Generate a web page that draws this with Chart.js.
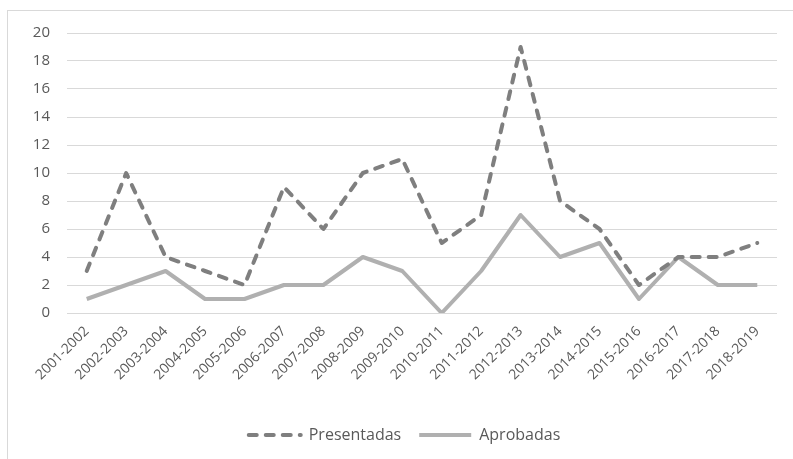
<!DOCTYPE html>
<html>
<head>
<meta charset="utf-8">
<script src="https://cdn.jsdelivr.net/npm/chart.js@4/dist/chart.umd.min.js"></script>
<style>
  html, body { margin: 0; padding: 0; background: #fff; }
  #wrap { position: relative; width: 793px; height: 459px; overflow: hidden; }
  #frame {
    position: absolute; left: 7px; top: 10px; width: 800px; height: 460px;
    border-left: 1px solid #d9d9d9; border-top: 1px solid #d9d9d9;
  }
  #chart { position: absolute; left: 0; top: 0; }
</style>
</head>
<body>
<div id="wrap">
  <div id="frame"></div>
  <canvas id="chart" width="793" height="459"></canvas>
</div>
<script>
// Cursos académicos
const cursos = [
  '2001-2002', '2002-2003', '2003-2004', '2004-2005', '2005-2006', '2006-2007',
  '2007-2008', '2008-2009', '2009-2010', '2010-2011', '2011-2012', '2012-2013',
  '2013-2014', '2014-2015', '2015-2016', '2016-2017', '2017-2018', '2018-2019'
];

// Iniciativas por curso
const presentadas = [3, 10, 4, 3, 2, 9, 6, 10, 11, 5, 7, 19, 8, 6, 2, 4, 4, 5];
const aprobadas   = [1, 2, 3, 1, 1, 2, 2, 4, 3, 0, 3, 7, 4, 5, 1, 4, 2, 2];

const yMin = 0;
const yMax = 20;
const yStep = 2;

const textColor = '#595959';
const fontFamily = '"Open Sans", "DejaVu Sans", sans-serif';

const ctx = document.getElementById('chart').getContext('2d');

// La leyenda con estilo 'line' no toma el trazo discontinuo del dataset; se lo pasamos a mano
const legendLabels = (chart) => {
    const items = Chart.defaults.plugins.legend.labels.generateLabels(chart);
    return items.map(item => {
        const ds = chart.data.datasets[item.datasetIndex];
        item.pointStyle = 'line';
        item.lineDash = ds.borderDash || [];
        item.lineCap = ds.borderCapStyle || 'butt';
        item.lineWidth = ds.borderWidth;
        item.strokeStyle = ds.borderColor;
        return item;
    });
};

// Desplaza un poco la leyenda hacia la derecha
const legendShift = {
    id: 'legendShift',
    afterLayout(chart) {
        const lg = chart.legend;
        if (!lg) return;
        lg.left += 12;
        lg.right += 12;
    }
};

new Chart(ctx, {
    type: 'line',
    data: {
        labels: cursos,
        datasets: [
            {
                label: 'Presentadas',
                data: presentadas,
                borderColor: '#7f7f7f',
                backgroundColor: '#7f7f7f',
                borderWidth: 4,
                borderDash: [8, 9],
                borderCapStyle: 'round',
                borderJoinStyle: 'round',
                pointRadius: 0,
                tension: 0
            },
            {
                label: 'Aprobadas',
                data: aprobadas,
                borderColor: '#b0b0b0',
                backgroundColor: '#b0b0b0',
                borderWidth: 4,
                borderJoinStyle: 'round',
                pointRadius: 0,
                tension: 0
            }
        ]
    },
    options: {
        responsive: false,
        animation: false,
        layout: { padding: { left: 8, top: 33, right: 16, bottom: 6 } },
        plugins: {
            legend: {
                position: 'bottom',
                labels: {
                    color: textColor,
                    font: { family: fontFamily, size: 16 },
                    usePointStyle: true,
                    pointStyleWidth: 52,
                    boxHeight: 16,
                    padding: 18,
                    generateLabels: legendLabels
                }
            },
            tooltip: { enabled: false }
        },
        scales: {
            x: {
                offset: true,
                grid: { display: false },
                border: { display: false },
                ticks: {
                    color: textColor,
                    font: { family: fontFamily, size: 14 },
                    minRotation: 45,
                    maxRotation: 45,
                    padding: 2
                },
                afterFit: (scale) => { scale.height = 96; }
            },
            y: {
                min: yMin,
                max: yMax,
                grid: { color: '#d9d9d9', lineWidth: 1, drawTicks: false },
                border: { display: false },
                ticks: {
                    stepSize: yStep,
                    color: textColor,
                    font: { family: fontFamily, size: 15 },
                    padding: 17
                },
                afterFit: (scale) => { scale.width = 59; }
            }
        }
    },
    plugins: [legendShift]
});
</script>
</body>
</html>
